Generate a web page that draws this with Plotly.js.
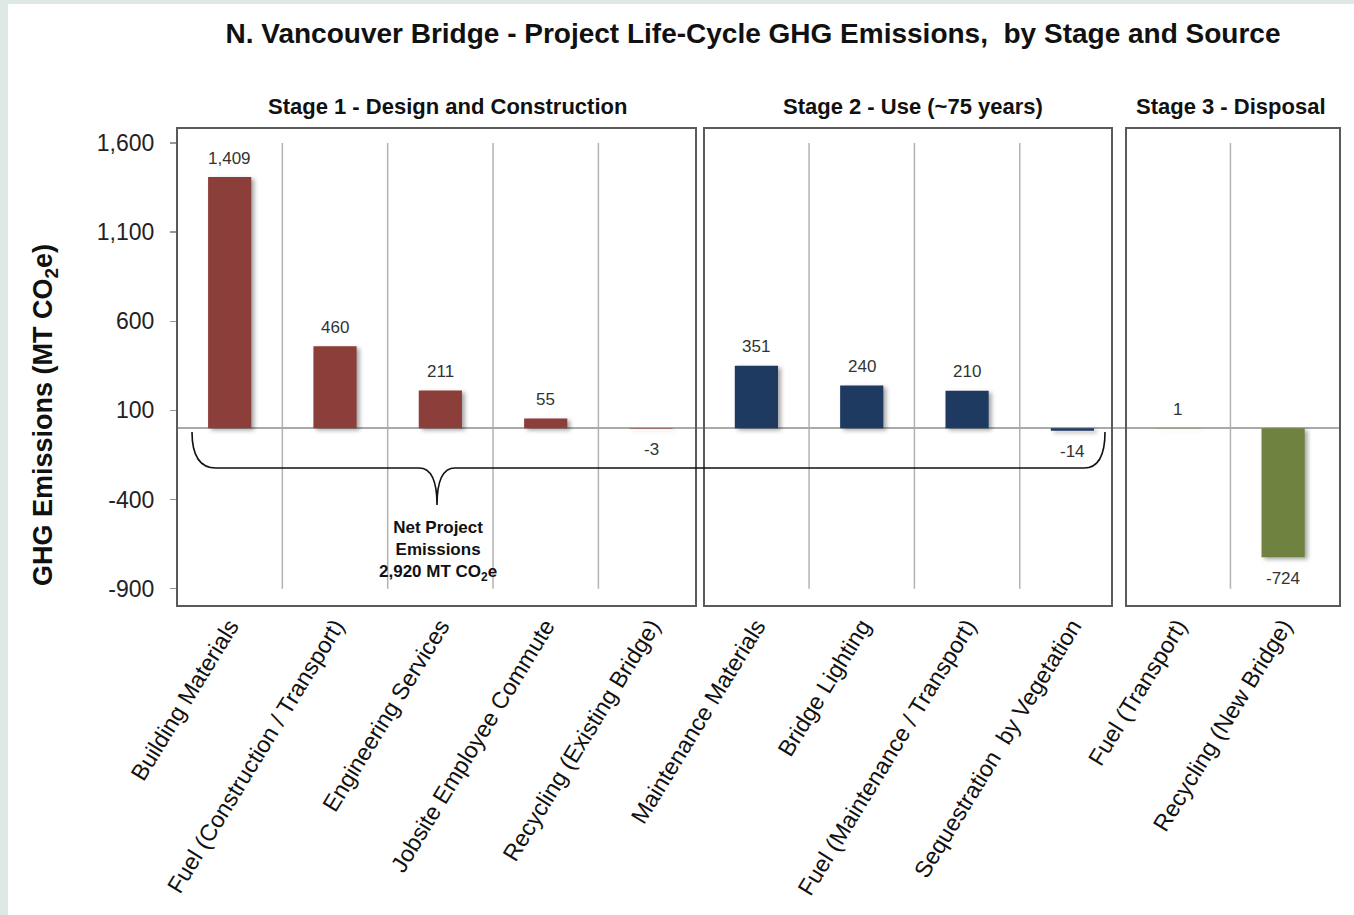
<!DOCTYPE html>
<html>
<head>
<meta charset="utf-8">
<script src="https://cdn.plot.ly/plotly-3.0.1.min.js"></script>
<style>
  html, body { margin:0; padding:0; width:1354px; height:915px; background:#dee9e6; overflow:hidden; }
  #card { position:absolute; left:8px; top:4px; width:1346px; height:911px; background:#ffffff; }
  #chart { position:absolute; left:0; top:0; width:1354px; height:915px; }
</style>
</head>
<body>
<div id="card"></div>
<div id="chart"></div>
<script>
// ---- data ----
const categories = [
  "Building Materials",
  "Fuel (Construction / Transport)",
  "Engineering Services",
  "Jobsite Employee Commute",
  "Recycling (Existing Bridge)",
  "Maintenance Materials",
  "Bridge Lighting",
  "Fuel (Maintenance / Transport)",
  "Sequestration\u00A0 by Vegetation",
  "Fuel (Transport)",
  "Recycling (New Bridge)"
];
const emissions = [1409, 460, 211, 55, -3, 351, 240, 210, -14, 1, -724];
const stageOf = [1, 1, 1, 1, 1, 2, 2, 2, 2, 3, 3];
const stageNames = ["Stage 1 - Design and Construction", "Stage 2 - Use (~75 years)", "Stage 3 - Disposal"];
const stageColors = {1: "#8c3e3a", 2: "#1f3a60", 3: "#6f8240"};
const yTickVals = [1600, 1100, 600, 100, -400, -900];
const yTickText = ["1,600", "1,100", "600", "100", "-400", "-900"];
const netLabel = "Net Project<br>Emissions<br>2,920 MT CO<sub>2</sub>e";

// ---- geometry helpers (pixel -> paper) ----
const L = 177, R = 1340, T = 127, B = 607;
const W = 1354, H = 915;
const P = x => (x - L) / (R - L);
const Q = y => (B - y) / (B - T);
const F = "Liberation Sans, Arial, sans-serif";

const xIdx = categories.map((c, i) => i);

const trace = {
  type: "bar",
  x: xIdx,
  y: emissions,
  width: 0.41,
  marker: { color: stageOf.map(s => stageColors[s]) },
  hoverinfo: "skip"
};

// gridlines at category boundaries inside each stage
const shapes = [];
for (let i = 0; i < categories.length - 1; i++) {
  if (stageOf[i] === stageOf[i + 1]) {
    shapes.push({ type: "line", xref: "x", yref: "y", x0: i + 0.5, x1: i + 0.5,
      y0: yTickVals[yTickVals.length - 1], y1: yTickVals[0],
      line: { color: "#b3b3b3", width: 1.5 }, layer: "below" });
  }
}
// stage boxes
const boxes = [[177, 696], [704, 1112], [1126, 1340]];
boxes.forEach(b => shapes.push({ type: "rect", xref: "paper", yref: "paper",
  x0: P(b[0]), x1: P(b[1]), y0: Q(606), y1: Q(128),
  line: { color: "#5a5a5a", width: 2 }, layer: "above" }));
// brace
const pt = (x, y) => P(x).toFixed(5) + "," + Q(y).toFixed(5);
const brace = "M " + pt(192, 432) +
  " C " + pt(192, 456) + " " + pt(200, 468) + " " + pt(216, 468) +
  " L " + pt(419, 468) +
  " C " + pt(431, 468) + " " + pt(437, 480) + " " + pt(437, 505) +
  " C " + pt(437, 480) + " " + pt(443, 468) + " " + pt(455, 468) +
  " L " + pt(1084, 468) +
  " C " + pt(1098, 468) + " " + pt(1105, 456) + " " + pt(1105, 432);
shapes.push({ type: "path", xref: "paper", yref: "paper", path: brace,
  line: { color: "#111", width: 1.6 }, layer: "above" });

const annotations = [
  { text: "GHG Emissions (MT CO<sub>2</sub>e)", xref: "paper", yref: "paper",
    x: P(45), y: Q(415), xanchor: "center", yanchor: "middle", textangle: -90, showarrow: false,
    font: { family: F, size: 27, color: "#111", weight: "bold" } },
  { text: netLabel, xref: "paper", yref: "paper", x: P(438), y: Q(551),
    xanchor: "center", yanchor: "middle",
    showarrow: false, align: "center",
    font: { family: F, size: 17, color: "#111", weight: "bold" } }
];
const stageCenters = [447, 913, 1231];
stageNames.forEach((s, i) => annotations.push({ text: s, xref: "paper", yref: "paper",
  x: P(stageCenters[i]), y: Q(106), xanchor: "center", yanchor: "middle", showarrow: false,
  font: { family: F, size: 22, color: "#111", weight: "bold" } }));
// value labels
emissions.forEach((v, i) => annotations.push({
  text: v.toLocaleString("en-US"), xref: "x", yref: "y", x: i, y: v,
  xanchor: "center", yanchor: "middle", yshift: v >= 0 ? 19 : -21, showarrow: false,
  font: { family: F, size: 17, color: "#333" } }));

const layout = {
  width: W, height: H,
  margin: { l: L, r: W - R, t: T, b: H - B, pad: 0 },
  paper_bgcolor: "rgba(0,0,0,0)",
  plot_bgcolor: "rgba(0,0,0,0)",
  showlegend: false,
  title: { text: "N. Vancouver Bridge - Project Life-Cycle GHG Emissions,\u00A0 by Stage and Source",
    x: 753 / W, xref: "container", xanchor: "center",
    y: 1 - 33 / H, yref: "container", yanchor: "middle",
    font: { family: F, size: 28, color: "#111", weight: "bold" } },
  xaxis: {
    range: [-0.5, 10.54], tickmode: "array", tickvals: xIdx, ticktext: categories,
    tickangle: -58.5, showgrid: false, zeroline: false, showline: false, ticks: "",
    tickfont: { family: F, size: 23.3, color: "#111" }, automargin: false
  },
  yaxis: {
    range: [-1003, 1690], tickmode: "array", tickvals: yTickVals, ticktext: yTickText,
    showgrid: false, zeroline: true, zerolinecolor: "#aaa", zerolinewidth: 1.5,
    showline: false, ticks: "outside", ticklen: 6, tickcolor: "#999", tickwidth: 1.5,
    tickfont: { family: F, size: 23, color: "#222" }, automargin: false, ticklabelstandoff: 11
  },
  shapes: shapes,
  annotations: annotations,
  bargap: 0.59
};

Plotly.newPlot("chart", [trace], layout, { staticPlot: true, displayModeBar: false }).then(() => {
  document.querySelectorAll("#chart .bars .point path").forEach(p => {
    p.style.filter = "drop-shadow(3px 2px 2px rgba(0,0,0,0.35))";
  });
});
</script>
</body>
</html>
